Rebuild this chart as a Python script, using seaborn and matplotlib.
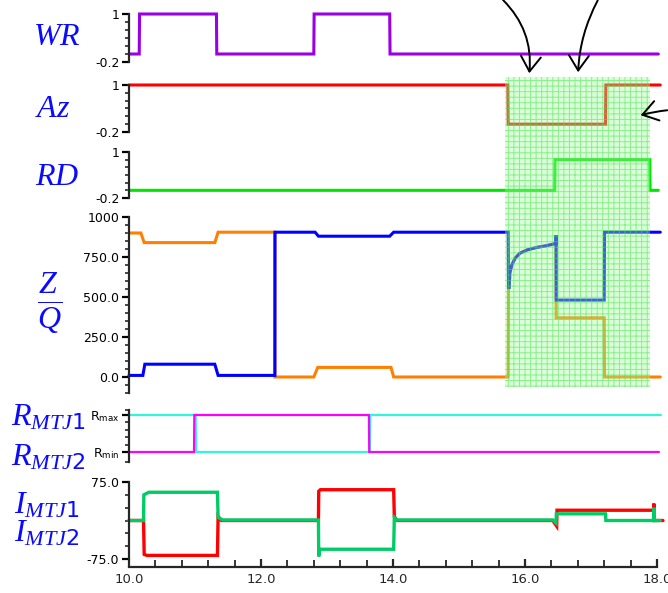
import numpy as np
import pandas as pd
import matplotlib
matplotlib.use("Agg")
import matplotlib.pyplot as plt
import seaborn as sns
from matplotlib.patches import Rectangle, FancyArrowPatch

# --- signal breakpoints (time in ns-ish units) ---
time_wr = [10.0, 10.155, 10.16, 11.325, 11.33, 12.80, 12.805, 13.95, 13.955, 18.02]
wr = [0, 0, 1, 1, 0, 0, 1, 1, 0, 0]

time_az = [10.0, 15.74, 15.745, 17.22, 17.225, 18.05]
az = [1, 1, 0, 0, 1, 1]

time_rd = [10.0, 16.45, 16.455, 17.89, 17.895, 18.02]
rd = [0, 0, 0.8, 0.8, 0, 0]

# shared recovery curve of Z / Q while sensing
curve_t = [15.76, 15.77, 15.80, 15.85, 15.92, 16.03, 16.18, 16.33, 16.47]
curve_v = [560, 650, 700, 742, 773, 794, 810, 821, 835]

time_q_a = [10.0, 10.18, 10.23, 11.30, 11.35, 12.21, 12.212, 12.80, 12.86, 13.97, 14.01, 15.745, 15.75]
q_a = [900, 900, 840, 840, 905, 905, 0, 0, 60, 60, 0, 0, 560]
time_q_b = [16.472, 17.20, 17.205, 18.05]
q_b = [370, 370, 0, 0]

time_z_a = [10.0, 10.21, 10.24, 11.30, 11.35, 12.21, 12.212, 12.82, 12.87, 13.95, 14.01, 15.745, 15.75]
z_a = [10, 10, 80, 80, 10, 10, 905, 905, 880, 880, 905, 905, 560]
time_z_b = [16.471, 16.472, 17.20, 17.205, 18.05]
z_b = [887, 481, 481, 905, 905]

time_r1 = [10.0, 11.01, 11.015, 13.65, 13.655, 18.06]
r1 = [1, 1, 0, 0, 1, 1]
time_r2 = [10.0, 10.985, 10.99, 13.635, 13.64, 18.03]
r2 = [0, 0, 1, 1, 0, 0]

time_i1 = [10.0, 10.22, 10.225, 10.30, 11.34, 11.35, 11.42, 12.87, 12.875, 12.89, 14.01, 14.02, 14.06,
           16.42, 16.47, 16.475, 17.22, 17.225, 17.95, 17.952, 17.955, 18.05]
i1 = [0, 0, 50, 55, 55, 6, 1, 1, -70, -56, -56, 6, 1, 1, -5, 13, 13, 0, 0, 25, 0, 0]
time_i2 = [10.0, 10.22, 10.23, 10.27, 11.34, 11.35, 11.40, 12.87, 12.875, 12.90, 14.01, 14.02, 14.06,
           16.42, 16.48, 16.485, 17.95, 17.952, 17.955, 18.09]
i2 = [0, 0, -66, -68, -68, 8, 0, 0, 57, 60, 60, 8, 0, 0, -11, 20, 20, 33, 0, 0]

x_ticks = [10, 12, 14, 16, 18]
x_labels = ["10.0", "12.0", "14.0", "16.0", "18.0"]
shade_t = (15.70, 17.89)

W, H = 668, 593
X0, X1 = 129, 657

sns.set_style("ticks")
plt.rcParams["font.family"] = ["DejaVu Sans"]
plt.rcParams["mathtext.fontset"] = "custom"
plt.rcParams["mathtext.it"] = "Liberation Serif:italic"
plt.rcParams["mathtext.rm"] = "DejaVu Sans"
plt.rcParams["hatch.linewidth"] = 0.7

fig = plt.figure(figsize=(W / 100, H / 100), dpi=100)


def panel(y_top, y_bot):
    return fig.add_axes([X0 / W, 1 - y_bot / H, (X1 - X0) / W, (y_bot - y_top) / H])


def style(ax, ylim, major, labels, minor):
    ax.set_xlim(10, 18)
    ax.set_ylim(*ylim)
    ax.set_yticks(major)
    ax.set_yticklabels(labels)
    ax.set_yticks(minor, minor=True)
    for s in ["top", "right", "bottom"]:
        ax.spines[s].set_visible(False)
    ax.spines["left"].set_linewidth(1.6)
    ax.tick_params(axis="y", which="major", direction="out", length=5, width=1.6,
                   labelsize=9, pad=2, colors="black")
    ax.tick_params(axis="y", which="minor", direction="out", length=3, width=1.2)
    ax.tick_params(axis="x", which="both", bottom=False, labelbottom=False)
    ax.set_xlabel("")
    ax.set_ylabel("")
    ax.set_facecolor("none")


def trace(ax, t, v, color, lw=2.2):
    sns.lineplot(x=t, y=v, ax=ax, color=color, lw=lw, estimator=None, sort=False,
                 clip_on=False, solid_joinstyle="miter")


small_minor = [0.0, 0.2, 0.4, 0.6, 0.8]

ax_wr = panel(14, 62)
trace(ax_wr, time_wr, wr, "#9a00e6")
style(ax_wr, (-0.2, 1), [-0.2, 1], ["-0.2", "1"], small_minor)

ax_az = panel(85, 132)
trace(ax_az, time_az, az, "#ff0000")
style(ax_az, (-0.2, 1), [-0.2, 1], ["-0.2", "1"], small_minor)

ax_rd = panel(152, 198)
trace(ax_rd, time_rd, rd, "#00e600")
style(ax_rd, (-0.2, 1), [-0.2, 1], ["-0.2", "1"], small_minor)

ax_zq = panel(217, 393)
trace(ax_zq, time_q_a + curve_t + time_q_b, q_a + curve_v + q_b, "#ff8000")
trace(ax_zq, time_z_a + curve_t + time_z_b, z_a + curve_v + z_b, "#0000ff")
style(ax_zq, (-100, 1000), [0, 250, 500, 750, 1000],
      ["0.0", "250.0", "500.0", "750.0", "1000"], np.arange(-100, 1001, 50))

ax_r = panel(410, 462)
trace(ax_r, time_r1, r1, "#33f5dc", lw=1.6)
trace(ax_r, time_r2, r2, "#ff00ff", lw=1.6)
style(ax_r, (-0.27, 1.135), [0, 1], [r"R$_{\mathrm{min}}$", r"R$_{\mathrm{max}}$"],
      [-0.27, 0.2, 0.4, 0.6, 0.8, 1.135])

ax_i = panel(482, 559)
trace(ax_i, time_i2, i2, "#ff0000", lw=2.4)
trace(ax_i, time_i1, i1, "#00cc66", lw=2.4)
style(ax_i, (-75, 75), [-75, 75], ["-75.0", "75.0"], np.arange(-75, 76, 25))
ax_i.spines["bottom"].set_visible(True)
ax_i.spines["bottom"].set_position(("outward", 6))
ax_i.spines["bottom"].set_linewidth(1.6)
ax_i.set_xticks(x_ticks)
ax_i.set_xticklabels(x_labels)
ax_i.set_xticks(np.arange(10, 18.01, 0.4), minor=True)
ax_i.tick_params(axis="x", which="major", bottom=True, labelbottom=True, direction="in",
                 length=6, width=1.6, labelsize=9.5, pad=4)
ax_i.tick_params(axis="x", which="minor", bottom=True, direction="in", length=5, width=1.3)

# --- shaded sensing window ---
fx = lambda t: (X0 + (t - 10) / 8 * (X1 - X0)) / W
fy = lambda y: 1 - y / H
fig.add_artist(Rectangle((fx(shade_t[0]), fy(387)), fx(shade_t[1]) - fx(shade_t[0]), (387 - 77) / H,
                         transform=fig.transFigure, facecolor=(0.62, 1.0, 0.62, 0.38),
                         edgecolor=(0.3, 0.88, 0.3, 0.55), hatch="+++", lw=0, zorder=10))

# --- arrows ---
arrow_kw = dict(arrowstyle="->,head_length=0.6,head_width=0.4", mutation_scale=18,
                color="black", lw=1.4, transform=fig.transFigure, zorder=11)
fig.add_artist(FancyArrowPatch((501 / W, fy(-2)), (529 / W, fy(76)),
                               connectionstyle="arc3,rad=-0.25", **arrow_kw))
fig.add_artist(FancyArrowPatch((599 / W, fy(-2)), (578 / W, fy(75)),
                               connectionstyle="arc3,rad=0.12", **arrow_kw))
fig.add_artist(FancyArrowPatch((670 / W, fy(110)), (638 / W, fy(116)),
                               connectionstyle="arc3,rad=0.05", **arrow_kw))

# --- signal names ---
blue = "#0a0aff"
lab = dict(color=blue, fontsize=23, ha="left", va="baseline")
fig.text(33 / W, fy(45), r"$\mathit{WR}$", **lab)
fig.text(35 / W, fy(117), r"$\mathit{Az}$", **lab)
fig.text(35 / W, fy(185), r"$\mathit{RD}$", **lab)
fig.text(38 / W, fy(293), r"$\mathit{Z}$", **lab)
fig.text(37 / W, fy(330), r"$\overline{\mathit{Q}}$", **lab)
fig.text(11 / W, fy(425), r"$\mathit{R}_{\mathit{MTJ1}}$", **lab)
fig.text(11 / W, fy(465), r"$\mathit{R}_{\mathit{MTJ2}}$", **lab)
fig.text(14 / W, fy(513), r"$\mathit{I}_{\mathit{MTJ1}}$", **lab)
fig.text(14 / W, fy(542), r"$\mathit{I}_{\mathit{MTJ2}}$", **lab)

fig.savefig("out.png", dpi=100)
plt.close(fig)
